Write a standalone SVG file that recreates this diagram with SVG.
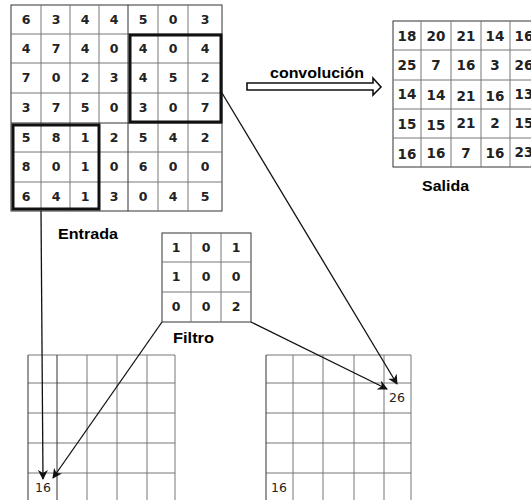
<svg xmlns="http://www.w3.org/2000/svg" width="531" height="500" viewBox="0 0 531 500">
<style>
.g{stroke:#777;stroke-width:1;fill:none}
.gd{stroke:#333;stroke-width:1;fill:none}
.thick{stroke:#111;stroke-width:3;fill:none}
.n{font-family:"DejaVu Sans",sans-serif;font-weight:bold;font-size:12.5px;fill:#222;text-anchor:middle}
.o{font-family:"DejaVu Sans",sans-serif;font-weight:bold;font-size:13.5px;fill:#222;text-anchor:middle}
.b{font-family:"DejaVu Sans",sans-serif;font-size:12.5px;fill:#222;text-anchor:middle}
.lab{font-family:"Liberation Sans",Arial,sans-serif;font-weight:bold;font-size:15px;fill:#000}
.c{stroke:#111;stroke-width:1.3;fill:none;marker-end:url(#ah)}
</style>
<defs>
<marker id="ah" viewBox="0 0 10 10" refX="9" refY="5" markerWidth="10" markerHeight="10" markerUnits="userSpaceOnUse" orient="auto">
<path d="M0,0 L10,5 L0,10 L3,5 Z" fill="#111"/>
</marker>
</defs>

<g id="entrada">
<rect x="11" y="5" width="211" height="206" fill="#fff" class="gd"/>
<path class="g" d="M41,5V211M70,5V211M99,5V211M158,5V211M188,5V211M11,34H222M11,63H222M11,93H222M11,152H222M11,182H222"/>
<path class="gd" d="M128,5V211M11,123H222"/>
<g class="n">
<text x="26" y="24">6</text><text x="56" y="24">3</text><text x="85" y="24">4</text><text x="114" y="24">4</text><text x="143" y="24">5</text><text x="173" y="24">0</text><text x="205" y="24">3</text>
<text x="26" y="53">4</text><text x="56" y="53">7</text><text x="85" y="53">4</text><text x="114" y="53">0</text><text x="143" y="53">4</text><text x="173" y="53">0</text><text x="205" y="53">4</text>
<text x="26" y="82">7</text><text x="56" y="82">0</text><text x="85" y="82">2</text><text x="114" y="82">3</text><text x="143" y="82">4</text><text x="173" y="82">5</text><text x="205" y="82">2</text>
<text x="26" y="112">3</text><text x="56" y="112">7</text><text x="85" y="112">5</text><text x="114" y="112">0</text><text x="143" y="112">3</text><text x="173" y="112">0</text><text x="205" y="112">7</text>
<text x="26" y="142">5</text><text x="56" y="142">8</text><text x="85" y="142">1</text><text x="114" y="142">2</text><text x="143" y="142">5</text><text x="173" y="142">4</text><text x="205" y="142">2</text>
<text x="26" y="171">8</text><text x="56" y="171">0</text><text x="85" y="171">1</text><text x="114" y="171">0</text><text x="143" y="171">6</text><text x="173" y="171">0</text><text x="205" y="171">0</text>
<text x="26" y="201">6</text><text x="56" y="201">4</text><text x="85" y="201">1</text><text x="114" y="201">3</text><text x="143" y="201">0</text><text x="173" y="201">4</text><text x="205" y="201">5</text>
</g>
<rect class="thick" x="130" y="35" width="91" height="87"/>
<rect class="thick" x="13" y="125" width="86" height="84"/>
<text class="lab" x="58" y="239" textLength="60" lengthAdjust="spacingAndGlyphs">Entrada</text>
</g>

<g id="salida">
<rect x="393" y="21" width="146" height="146" fill="#fff" class="gd"/>
<path class="g" d="M421,21V167M451,21V167M481,21V167M510,21V167M393,50H539M393,80H539M393,109H539M393,138H539"/>
<g class="o">
<text x="407" y="41">18</text><text x="436" y="41">20</text><text x="466" y="41">21</text><text x="495" y="41">14</text><text x="524" y="41">16</text>
<text x="407" y="70">25</text><text x="436" y="70">7</text><text x="466" y="70">16</text><text x="495" y="70">3</text><text x="524" y="70">26</text>
<text x="407" y="99">14</text><text x="436" y="100">14</text><text x="466" y="101">21</text><text x="495" y="101">16</text><text x="524" y="99">13</text>
<text x="407" y="129">15</text><text x="436" y="130">15</text><text x="466" y="128">21</text><text x="495" y="128">2</text><text x="524" y="128">15</text>
<text x="407" y="159">16</text><text x="436" y="158">16</text><text x="466" y="158">7</text><text x="495" y="158">16</text><text x="524" y="157">23</text>
</g>
<text class="lab" x="422" y="191" textLength="47" lengthAdjust="spacingAndGlyphs">Salida</text>
</g>

<g id="convolucion">
<text class="lab" x="270" y="78" textLength="94" lengthAdjust="spacingAndGlyphs">convolución</text>
<path d="M247,83 H373 V78 L381,87 L373,95 V90 H247 Z" fill="#fff" stroke="#111" stroke-width="1.6" stroke-linejoin="miter"/>
</g>

<g id="filtro">
<rect x="162" y="233" width="89" height="89" fill="#fff" class="gd"/>
<path class="g" d="M191,233V322M221,233V322M162,262H251M162,292H251"/>
<g class="n">
<text x="176" y="252">1</text><text x="206" y="252">0</text><text x="236" y="252">1</text>
<text x="176" y="281">1</text><text x="206" y="281">0</text><text x="236" y="281">0</text>
<text x="176" y="311">0</text><text x="206" y="311">0</text><text x="236" y="311">2</text>
</g>
<text class="lab" x="173" y="343" textLength="41" lengthAdjust="spacingAndGlyphs">Filtro</text>
</g>

<g id="salida1">
<path class="g" d="M87,355V500M117,355V500M147,355V500M175,355V500M28,383H175M28,413H175M28,443H175M28,473H175M28,355H175"/>
<path class="gd" d="M28,355V500M57,355V500"/>
<text class="b" x="43" y="492">16</text>
</g>

<g id="salida2">
<path class="g" d="M293,355V500M323,355V500M354,355V500M384,355V500M411,355V500M266,383H411M266,413H411M266,443H411M266,473H411M266,355H411"/>
<path class="gd" d="M266,355V500"/>
<text class="b" x="397" y="402">26</text>
<text class="b" x="279" y="492">16</text>
</g>

<g id="conectores">
<path class="c" d="M41,211 L43,479"/>
<path class="c" d="M162,322 L53,478"/>
<path class="c" d="M251,322 L387,389"/>
<path class="c" d="M222,93 L397,384"/>
</g>
</svg>
